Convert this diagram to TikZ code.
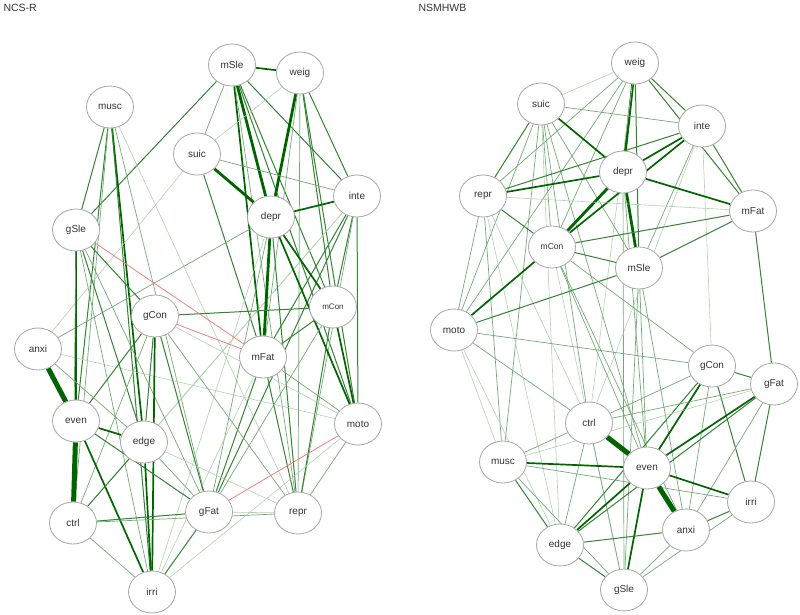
\documentclass[tikz,border=0pt]{standalone}
\usepackage{fontspec}
\setmainfont{Liberation Sans}
\usetikzlibrary{shapes.geometric,backgrounds}
\definecolor{netgreen}{HTML}{006400}
\definecolor{netred}{HTML}{F08080}

\begin{document}
\begin{tikzpicture}[x=1pt,y=-1pt,
  var/.style={draw=gray!70, line width=0.8pt, fill=white, ellipse, minimum width=47pt, minimum height=42pt, inner sep=0pt, font=\fontsize{10}{11}\selectfont, text=black!80},
  title/.style={anchor=west, font=\fontsize{10.5}{12}\selectfont, text=black!80},
  e1/.style={draw=netgreen!30, line width=0.6pt},
  e2/.style={draw=netgreen!55, line width=0.7pt},
  e3/.style={draw=netgreen!80, line width=1pt},
  e4/.style={draw=netgreen, line width=1.7pt},
  e5/.style={draw=netgreen, line width=2.8pt},
  e6/.style={draw=netgreen, line width=5pt},
  neg/.style={draw=netred, line width=0.8pt}]
\useasboundingbox (0,0) rectangle (800,614);

% titles
\node[title] (titleL) at (0,8) {NCS-R};
\node[title] (titleR) at (415,8) {NSMHWB};

% NCS-R network
\node[var] (LmSle) at (232,65) {mSle};
\node[var] (Lweig) at (300,73) {weig};
\node[var] (Lmusc) at (110,107) {musc};
\node[var] (Lsuic) at (197,154) {suic};
\node[var] (Linte) at (357,196) {inte};
\node[var] (Ldepr) at (271,217) {depr};
\node[var] (LgSle) at (76,230) {gSle};
\node[var, font=\fontsize{8}{9}\selectfont] (LmCon) at (333,307) {mCon};
\node[var] (LgCon) at (155,316) {gCon};
\node[var] (Lanxi) at (38,349) {anxi};
\node[var] (LmFat) at (263,357) {mFat};
\node[var] (Leven) at (76,421) {even};
\node[var] (Lmoto) at (358,424) {moto};
\node[var] (Ledge) at (144,442) {edge};
\node[var] (Lctrl) at (73,523) {ctrl};
\node[var] (LgFat) at (209,512) {gFat};
\node[var] (Lrepr) at (298,513) {repr};
\node[var] (Lirri) at (152,592) {irri};

% NSMHWB network
\node[var] (Rweig) at (635,63) {weig};
\node[var] (Rsuic) at (541,104) {suic};
\node[var] (Rinte) at (702,126) {inte};
\node[var] (Rdepr) at (623,172) {depr};
\node[var] (Rrepr) at (483,196) {repr};
\node[var] (RmFat) at (753,211) {mFat};
\node[var, font=\fontsize{8.5}{9}\selectfont] (RmCon) at (552,247) {mCon};
\node[var] (RmSle) at (639,268) {mSle};
\node[var] (Rmoto) at (454,330) {moto};
\node[var] (RgCon) at (712,366) {gCon};
\node[var] (RgFat) at (774,384) {gFat};
\node[var] (Rctrl) at (589,423) {ctrl};
\node[var] (Rmusc) at (503,462) {musc};
\node[var] (Reven) at (647,468) {even};
\node[var] (Rirri) at (751,502) {irri};
\node[var] (Ranxi) at (686,530) {anxi};
\node[var] (Redge) at (560,545) {edge};
\node[var] (RgSle) at (624,590) {gSle};

\begin{scope}[on background layer]
  % NCS-R edges
  \foreach \a/\b/\s in {
    LmSle/Lweig/e4, LmSle/LgSle/e3, LmSle/Lsuic/e2, LmSle/Ldepr/e5, LmSle/LmFat/e4,
    LmSle/LmCon/e3, LmSle/Linte/e3, LmSle/Lmoto/e3, LmSle/Lrepr/e2,
    Lweig/Ldepr/e5, Lweig/Lsuic/e1, Lweig/Linte/e3, Lweig/LmCon/e3, Lweig/Lmoto/e3,
    Lweig/LmFat/e2, Lweig/Lrepr/e2,
    Lmusc/LgSle/e3, Lmusc/Leven/e3, Lmusc/Lctrl/e2, Lmusc/Ledge/e4, Lmusc/Lirri/e3,
    Lmusc/Lrepr/e1, Lmusc/LgFat/e2,
    Lsuic/Ldepr/e5, Lsuic/Linte/e2, Lsuic/LmFat/e3, Lsuic/Lanxi/e1,
    Linte/Ldepr/e4, Linte/LmCon/e3, Linte/Lmoto/e3, Linte/LmFat/e3, Linte/LgFat/e3,
    Linte/Lctrl/e1, Linte/Ledge/e1, Linte/Lrepr/e2,
    Ldepr/LmCon/e4, Ldepr/LmFat/e5, Ldepr/Lmoto/e4, Ldepr/Lrepr/e3, Ldepr/Lanxi/e2,
    Ldepr/LgFat/e2, Ldepr/Lirri/e1,
    LmCon/LgCon/e3, LmCon/LmFat/e3, LmCon/Lmoto/e4, LmCon/Lrepr/e3, LmCon/LgFat/e2,
    LmFat/LgFat/e3, LmFat/Lrepr/e3, LmFat/Lmoto/e2, LmFat/Lirri/e1,
    Lmoto/Lanxi/e1, Lmoto/LgCon/e1, Lmoto/Lrepr/e2, Lmoto/Lirri/e1,
    LgSle/Leven/e4, LgSle/Lctrl/e2, LgSle/Ledge/e3, LgSle/LgCon/e3, LgSle/Lirri/e2,
    LgSle/LgFat/e2,
    LgCon/Leven/e3, LgCon/Ledge/e3, LgCon/LgFat/e3, LgCon/Lirri/e4, LgCon/Lctrl/e2,
    LgCon/Lrepr/e2,
    Lanxi/Leven/e6, Lanxi/Ledge/e2,
    Leven/Lctrl/e6, Leven/Ledge/e4, Leven/LgFat/e3, Leven/Lirri/e4,
    Ledge/Lctrl/e3, Ledge/LgFat/e2, Ledge/Lirri/e4, Ledge/Lrepr/e1,
    Lctrl/LgFat/e3, Lctrl/Lrepr/e2, Lctrl/Lirri/e2,
    LgFat/Lrepr/e1, LgFat/Lirri/e3,
    LgSle/LmFat/neg, LgCon/LmFat/neg, LgFat/Lmoto/neg}
    \draw[\s] (\a) -- (\b);
  % NSMHWB edges
  \foreach \a/\b/\s in {
    Rweig/Rsuic/e1, Rweig/Rdepr/e5, Rweig/RmSle/e3, Rweig/Rinte/e3, Rweig/RmFat/e3,
    Rweig/Rrepr/e2, Rweig/RmCon/e2, Rweig/Rmoto/e2, Rweig/Rctrl/e1,
    Rsuic/Rinte/e2, Rsuic/Rdepr/e4, Rsuic/Rrepr/e3, Rsuic/RmCon/e2, Rsuic/Rmoto/e2,
    Rsuic/Rmusc/e2, Rsuic/Rctrl/e2, Rsuic/Reven/e2, Rsuic/RmSle/e2, Rsuic/Redge/e1,
    Rinte/Rdepr/e4, Rinte/RmCon/e4, Rinte/Rrepr/e3, Rinte/RmFat/e3, Rinte/RmSle/e2,
    Rinte/RgCon/e1, Rinte/Rctrl/e1,
    Rdepr/Rrepr/e4, Rdepr/RmFat/e4, Rdepr/RmCon/e5, Rdepr/RmSle/e5, Rdepr/Reven/e2,
    Rdepr/RgSle/e2,
    Rrepr/RmFat/e1, Rrepr/RmCon/e3, Rrepr/Rmoto/e2, Rrepr/Rmusc/e2, Rrepr/Redge/e1,
    Rrepr/Rctrl/e1,
    RmFat/RmCon/e3, RmFat/RmSle/e3, RmFat/RgFat/e3,
    RmCon/RmSle/e3, RmCon/Rmoto/e4, RmCon/Reven/e2, RmCon/RgCon/e2, RmCon/Ranxi/e2,
    RmCon/RgSle/e1,
    RmSle/Rmoto/e3, RmSle/Reven/e2, RmSle/RgSle/e2, RmSle/Ranxi/e2,
    Rmoto/RgCon/e2, Rmoto/Rctrl/e2, Rmoto/Rmusc/e1, Rmoto/Redge/e1,
    RgCon/RgFat/e3, RgCon/Reven/e4, RgCon/Redge/e3, RgCon/Rctrl/e2, RgCon/Rirri/e3,
    RgCon/Ranxi/e2,
    RgFat/Reven/e4, RgFat/Rctrl/e2, RgFat/Rirri/e3, RgFat/Redge/e3, RgFat/Ranxi/e2,
    RgFat/Rmusc/e1,
    Rctrl/Reven/e6, Rctrl/Rmusc/e2, Rctrl/Redge/e2, Rctrl/RgSle/e2,
    Rmusc/Reven/e4, Rmusc/Rirri/e2, Rmusc/Redge/e3, Rmusc/RgSle/e2,
    Reven/Ranxi/e6, Reven/Rirri/e4, Reven/Redge/e4, Reven/RgSle/e4,
    Rirri/Ranxi/e3, Rirri/RgSle/e2,
    Ranxi/Redge/e3, Ranxi/RgSle/e2,
    Redge/RgSle/e3}
    \draw[\s] (\a) -- (\b);
\end{scope}
\end{tikzpicture}
\end{document}
